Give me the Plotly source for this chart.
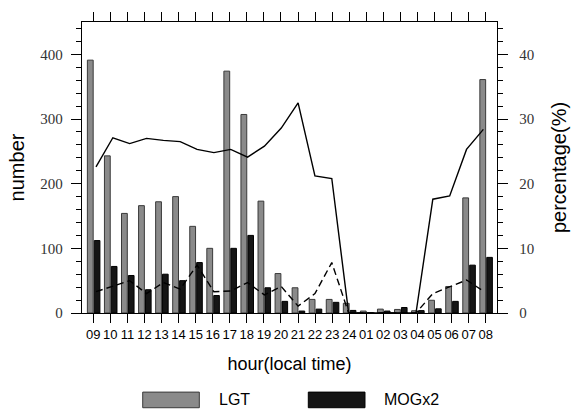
import plotly.graph_objects as go

hours = ["09","10","11","12","13","14","15","16","17","18","19","20",
         "21","22","23","24","01","02","03","04","05","06","07","08"]

lgt = [391, 243, 154, 166, 172, 180, 134, 100, 374, 307, 173, 61,
       39, 21, 21, 15, 3, 6, 5.5, 3.5, 19.7, 41, 178, 361]
mogx2 = [112, 72, 58, 36, 60, 50, 78, 27, 100, 120, 39, 18,
         3, 6, 16.5, 4, 0, 3, 8.5, 3.7, 6.5, 18, 74, 86]

pct_solid = [22.6, 27.1, 26.2, 27.0, 26.7, 26.5, 25.3, 24.8, 25.3, 24.1, 25.8, 28.6,
             32.5, 21.2, 20.8, 0, 0, 0, 0, 0, 17.6, 18.1, 25.3, 28.4]
pct_dash = [3.3, 4.1, 5.0, 3.0, 4.7, 3.7, 7.4, 3.3, 3.4, 4.7, 2.8, 4.1,
            1.06, 3.0, 7.8, 0, 0, 0, 0, 0, 3.0, 4.1, 5.1, 3.4]

idx = list(range(len(hours)))

GRAY = "#8a8a8a"
BLACK = "#151515"

fig = go.Figure()
fig.add_trace(go.Bar(x=idx, y=lgt, width=0.34, offset=-0.345,
                     marker=dict(color=GRAY, line=dict(color="#3a3a3a", width=1)),
                     name="LGT", xaxis="x", yaxis="y"))
fig.add_trace(go.Bar(x=idx, y=mogx2, width=0.33, offset=0.06,
                     marker=dict(color=BLACK, line=dict(color="#000000", width=1)),
                     name="MOGx2", xaxis="x", yaxis="y"))
fig.add_trace(go.Scatter(x=idx, y=pct_solid, mode="lines",
                         line=dict(color="black", width=1.4),
                         xaxis="x2", yaxis="y2", name="solid"))
fig.add_trace(go.Scatter(x=idx, y=pct_dash, mode="lines",
                         line=dict(color="black", width=1.4, dash="7px,4px"),
                         xaxis="x2", yaxis="y2", name="dash"))

axis_font = dict(family="Liberation Serif", size=15, color="#333")
fig.update_layout(
    width=579, height=412,
    margin=dict(l=82, r=82, t=15, b=99),
    plot_bgcolor="white", paper_bgcolor="white",
    showlegend=False,
    barmode="overlay",
    xaxis=dict(range=[-0.66, 23.66], tickmode="array", tickvals=idx, ticktext=hours,
               ticks="outside", ticklen=9, tickwidth=1.3, tickcolor="black",
               showline=True, linecolor="black", linewidth=1.3, mirror="ticks",
               showgrid=False, zeroline=False,
               tickfont=dict(family="Liberation Sans", size=13, color="black"),
               title=dict(text="hour(local time)", standoff=16,
                          font=dict(family="Liberation Sans", size=18, color="black"))),
    xaxis2=dict(range=[-0.831, 23.81], overlaying="x", visible=False),
    yaxis=dict(range=[0, 450], tickmode="linear", tick0=0, dtick=100,
               ticks="outside", ticklen=10, tickwidth=1.3, tickcolor="black",
               minor=dict(dtick=20, tick0=0, ticks="outside", ticklen=5, tickwidth=1, tickcolor="black"),
               showline=True, linecolor="black", linewidth=1.3,
               showgrid=False, zeroline=False, ticklabelstandoff=5,
               tickfont=axis_font,
               title=dict(text="number", standoff=10,
                          font=dict(family="Liberation Sans", size=20, color="black"))),
    yaxis2=dict(range=[0, 45], overlaying="y", side="right", tickmode="linear", tick0=0, dtick=10,
                ticks="outside", ticklen=10, tickwidth=1.3, tickcolor="black",
                minor=dict(dtick=2, tick0=0, ticks="outside", ticklen=5, tickwidth=1, tickcolor="black"),
                showline=True, linecolor="black", linewidth=1.3,
                showgrid=False, zeroline=False, ticklabelstandoff=8,
                tickfont=axis_font,
                title=dict(text="percentage(%)", standoff=18,
                           font=dict(family="Liberation Sans", size=20, color="black"))),
)

# legend drawn manually (large swatches as in the reference)
fig.add_shape(type="rect", xref="paper", yref="paper", x0=0.1463, x1=0.2827, y0=-0.3255, y1=-0.2718,
              fillcolor=GRAY, line=dict(color="#3a3a3a", width=1))
fig.add_shape(type="rect", xref="paper", yref="paper", x0=0.5453, x1=0.6819, y0=-0.3255, y1=-0.2718,
              fillcolor=BLACK, line=dict(color="#000000", width=1))
fig.add_annotation(xref="paper", yref="paper", x=0.3246, y=-0.2987, text="LGT", showarrow=False,
                   xanchor="left", yanchor="middle",
                   font=dict(family="Liberation Sans", size=16, color="black"))
fig.add_annotation(xref="paper", yref="paper", x=0.7222, y=-0.2987, text="MOGx2", showarrow=False,
                   xanchor="left", yanchor="middle",
                   font=dict(family="Liberation Sans", size=16, color="black"))

fig.write_html("out.html")
